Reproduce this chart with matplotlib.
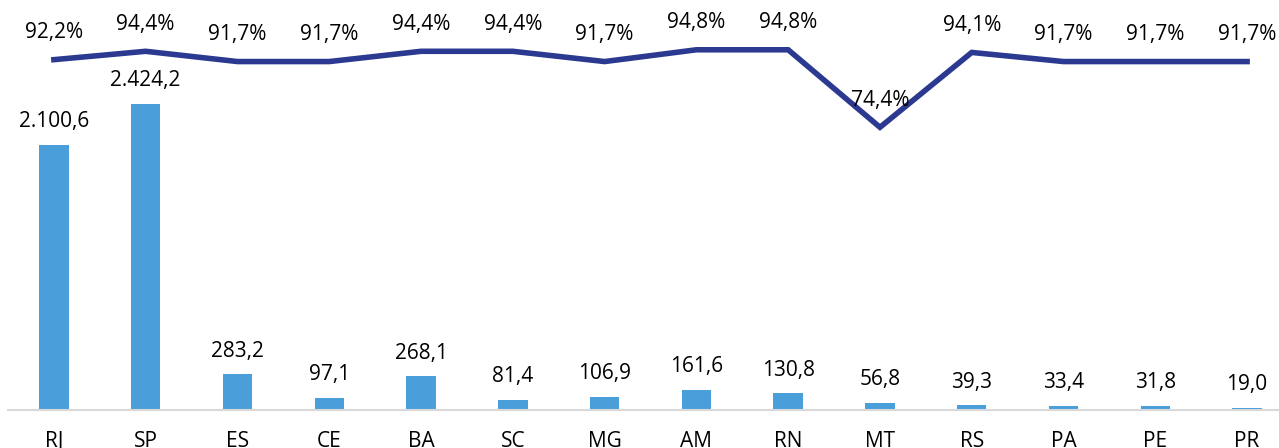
import matplotlib
matplotlib.use("Agg")
from matplotlib import pyplot as plt

states = ["RJ", "SP", "ES", "CE", "BA", "SC", "MG", "AM", "RN", "MT", "RS", "PA", "PE", "PR"]
values = [2100.6, 2424.2, 283.2, 97.1, 268.1, 81.4, 106.9, 161.6, 130.8, 56.8, 39.3, 33.4, 31.8, 19.0]
pct = [92.2, 94.4, 91.7, 91.7, 94.4, 94.4, 91.7, 94.8, 94.8, 74.4, 94.1, 91.7, 91.7, 91.7]

BAR = "#4A9ED9"
LINE = "#2B3990"
FONT = "Open Sans"


def fmt_num(v):
    s = f"{v:,.1f}"
    return s.replace(",", "X").replace(".", ",").replace("X", ".")


def fmt_pct(v):
    return f"{v:.1f}%".replace(".", ",")


plt.rcParams["font.family"] = [FONT, "DejaVu Sans"]

fig = plt.figure(figsize=(12.79, 4.48), dpi=100)
ax = fig.add_axes([8 / 1279, 38 / 448, 1285 / 1279, 410 / 448])
x = list(range(len(states)))
ax.bar(x, values, width=0.32, color=BAR, zorder=2)
ax.set_xlim(-0.5, len(states) - 0.5)
ax.set_ylim(0, 3247)
for sp in ["top", "right", "left"]:
    ax.spines[sp].set_visible(False)
ax.spines["bottom"].set_color("#d9d9d9")
ax.spines["bottom"].set_linewidth(1.5)
ax.set_yticks([])
ax.set_xticks(x)
ax.set_xticklabels(states, fontsize=15)
ax.tick_params(axis="x", length=0, pad=15)
for xi, v in zip(x, values):
    ax.annotate(fmt_num(v), (xi, v), xytext=(0, 9), textcoords="offset points",
                ha="center", va="bottom", fontsize=15)

ax2 = ax.twinx()
ax2.plot(x, pct, color=LINE, linewidth=4, solid_joinstyle="miter", zorder=3)
ax2.set_ylim(0, 107.9)
ax2.axis("off")
for xi, p in zip(x, pct):
    ax2.annotate(fmt_pct(p), (xi, p), xytext=(0, 12), textcoords="offset points",
                 ha="center", va="bottom", fontsize=15)

plt.savefig("out.png", dpi=100)
plt.close()
